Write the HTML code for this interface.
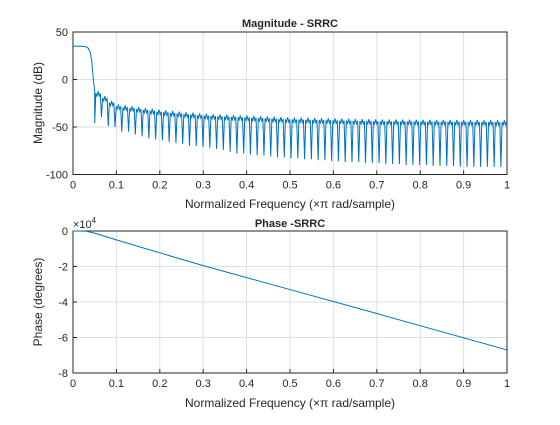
<!DOCTYPE html>
<html><head><meta charset="utf-8"><style>
body{margin:0;background:#fff}
svg text{font-family:"Liberation Sans",sans-serif;fill:#262626}
</style></head><body>
<svg id="c" width="560" height="420"></svg>
<script>
const xTicks=[0,0.1,0.2,0.3,0.4,0.5,0.6,0.7,0.8,0.9,1];
const xTickLabels=["0","0.1","0.2","0.3","0.4","0.5","0.6","0.7","0.8","0.9","1"];
const magTicks=[50,0,-50,-100];
const phaseTicks=[0,-2,-4,-6,-8];
const passFreq=[0,0.02,0.03,0.035,0.04,0.043,0.046,0.048,0.05];
const passMag=[35,35,34.5,33,28,20,5,-5,-10];
const envFreq=[0.05,0.1,0.2,0.3,0.5,0.7,1];
const envTop=[-10,-26,-32,-36,-40,-42,-43];
const nullStart=0.05;
const nullStep=0.0156;
const nullDepth=[-46,-40,-49,-50,-55,-55,-58,-60,-62,-63,-64,-66,-67,-68,-70,-70,-71,-72,-73,-74,-76,-78,-78,-79,-80,-80,-81,-82,-82,-83,-83,-84,-84,-85,-85,-86,-86,-87,-87,-87,-88,-88,-88,-89,-89,-89,-90,-90,-90,-90,-91,-91,-91,-91,-92,-92,-92,-92,-92,-92,-92];
const phaseFreq=[0,0.03,0.05,0.1,0.2,0.3,0.5,0.7,1];
const phaseVal=[0,-100,-1200,-5000,-12300,-19500,-33000,-46500,-67000];

const svg=document.getElementById('c');
const NS='http://www.w3.org/2000/svg';
function mk(t,a,p){const e=document.createElementNS(NS,t);for(const k in a)e.setAttribute(k,a[k]);(p||svg).appendChild(e);return e;}
const X0=73,X1=507;
const sx=f=>X0+f*(X1-X0);
const magAx={y0:32,y1:174.5,min:-100,max:50};
const phAx={y0:231,y1:373,min:-80000,max:0};
const sy=(ax,v)=>ax.y1-(v-ax.min)/(ax.max-ax.min)*(ax.y1-ax.y0);
function lerp(xs,ys,x){for(let i=1;i<xs.length;i++){if(x<=xs[i]){const t=(x-xs[i-1])/(xs[i]-xs[i-1]);return ys[i-1]+t*(ys[i]-ys[i-1]);}}return ys[ys.length-1];}

function axes(ax,ticks,tickScale,name){
  const g=mk('g',{});
  
  
  mk('rect',{x:X0,y:ax.y0,width:X1-X0,height:ax.y1-ax.y0,fill:'#fff'},g);
  xTicks.forEach((t,i)=>{
    const x=sx(t);
    if(i>0&&i<xTicks.length-1)mk('line',{x1:x,x2:x,y1:ax.y0,y2:ax.y1,stroke:'#dfdfdf','stroke-width':1},g);
    mk('line',{x1:x,x2:x,y1:ax.y1,y2:ax.y1-4,stroke:'#262626'},g);
    const tx=mk('text',{x:x,y:ax.y1+14,'font-size':11,'text-anchor':'middle'},g);tx.textContent=xTickLabels[i];
    
    
  });
  ticks.forEach(t=>{
    const y=sy(ax,t*tickScale);
    if(y>ax.y0+1&&y<ax.y1-1)mk('line',{x1:X0,x2:X1,y1:y,y2:y,stroke:'#dfdfdf'},g);
    mk('line',{x1:X0,x2:X0+4,y1:y,y2:y,stroke:'#262626'},g);
    const tx=mk('text',{x:X0-5,y:y+4,'font-size':11,'text-anchor':'end'},g);tx.textContent=String(t);
    
    
  });
  mk('rect',{x:X0,y:ax.y0,width:X1-X0,height:ax.y1-ax.y0,fill:'none',stroke:'#262626','stroke-width':1},g);
}
axes(magAx,magTicks,1,'magnitude');
axes(phAx,phaseTicks,10000,'phase');

let pts=[];
passFreq.forEach((f,i)=>pts.push([f,passMag[i]]));
nullDepth.forEach((d,i)=>{
  const f=nullStart+i*nullStep; if(f>1)return;
  pts.push([f,d]);
  const tp=lerp(envFreq,envTop,f+nullStep/2);
  for(let k=1;k<=5;k++){
    const ff=f+nullStep*k/6; if(ff>1)break;
    pts.push([ff,tp-(k%2?0:5)-(k==1||k==5?2:0)]);
  }
});
const magPath=mk('path',{d:'M'+pts.map(p=>sx(p[0]).toFixed(2)+','+sy(magAx,p[1]).toFixed(2)).join('L'),fill:'none',stroke:'#0072BD','stroke-width':1});


const phPath=mk('path',{d:'M'+phaseFreq.map((f,i)=>sx(f).toFixed(2)+','+sy(phAx,phaseVal[i]).toFixed(2)).join('L'),fill:'none',stroke:'#0072BD','stroke-width':1});



function txt(s,a,name){const t=mk('text',a);t.textContent=s;return t;}
txt('Magnitude - SRRC',{x:290,y:27,'font-size':11,'font-weight':'bold','text-anchor':'middle',fill:'#000'},'magnitude-title');
txt('Phase -SRRC',{x:290,y:227,'font-size':11,'font-weight':'bold','text-anchor':'middle',fill:'#000'},'phase-title');
txt('Normalized Frequency  (\u00d7\u03c0 rad/sample)',{x:290,y:208,'font-size':12,'text-anchor':'middle'},'magnitude-x-axis-title');
txt('Normalized Frequency  (\u00d7\u03c0 rad/sample)',{x:290,y:407,'font-size':12,'text-anchor':'middle'},'phase-x-axis-title');
txt('Magnitude (dB)',{x:0,y:0,'font-size':12,'text-anchor':'middle',transform:'translate(42,103) rotate(-90)'},'magnitude-y-axis-title');
txt('Phase (degrees)',{x:0,y:0,'font-size':12,'text-anchor':'middle',transform:'translate(42,302) rotate(-90)'},'phase-y-axis-title');
const ex=txt('\u00d710',{x:73,y:228,'font-size':11},'phase-exponent');
const sup=mk('tspan',{dy:-5,'font-size':8},ex);sup.textContent='4';
</script>
</body></html>
